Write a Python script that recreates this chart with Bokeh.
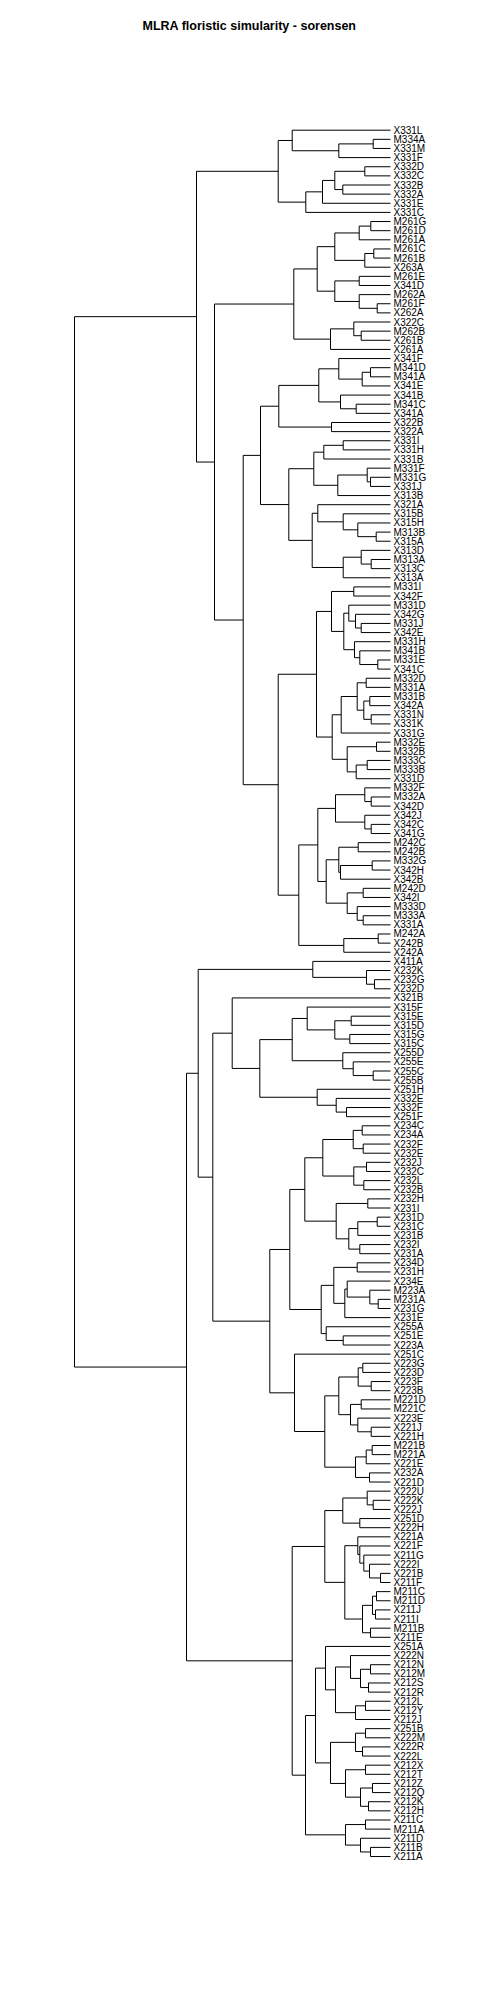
from bokeh.plotting import figure
from bokeh.models import Range1d, ColumnDataSource
from bokeh.core.properties import value
from bokeh.embed import file_html
from bokeh.resources import INLINE

TITLE = "MLRA floristic simularity - sorensen"

# ---- tree data: (merge height, left, right); leaves are labels ----
a1 = (98.3, "X331L", (51.7, (17.3, "M334A", "X331M"), "X331F"))
a2 = (84.7, (68, (55.7, (25.7, "X332D", "X332C"), (47.7, "X332B", "X332A")), "X331E"), "X331C")
clade_a = (112.3, a1, a2)

b1 = (55.7, (31.3, (19.7, "M261G", "M261D"), "M261A"), (25.7, (16.7, "M261C", "M261B"), "X263A"))
b2 = (55.7, (31.3, "M261E", "X341D"), (31.3, "M262A", (13.3, "M261F", "X262A")))
b3 = (60, (36.7, "X322C", (29.3, "M262B", "X261B")), "X261A")
clade_b = (96.7, (73.3, b1, b2), b3)

c1 = (71.7, (51.7, "X341F", (28.3, (20, "M341D", "M341A"), "X341E")),
      (50, "X341B", (34.3, "M341C", "X341A")))
c2 = (111.7, c1, (59, "X322B", "X322A"))
c3 = (76.7, (66.7, (47.3, "X331I", "X331H"), "X331B"),
      (52.7, (23.3, "M331F", (20, "M331G", "X331J")), "X313B"))
c4 = (78.3, (72.7, "X321A", (47.3, "X315B", (32.7, "X315H", (14.3, "M313B", "X315A")))),
      (47.3, (29.3, "X313D", (19.3, "M313A", "X313C")), "X313A"))
clade_c = (130, c2, (101.7, c3, c4))

d1 = (59, (36.7, "M331I", "X342F"),
      (46.7, (41.7, "M331D", (35, "X342G", (29.3, "M331J", "X342E"))),
       (36, "M331H", (30.7, "M341B", (12.7, "M331E", "X341C")))))
d2 = (58.3, (49.3, (33.3, (24.3, "M332D", "M331A"),
                    (26.7, (20.7, "M331B", "X342A"), (19.3, "X331N", "X331K"))), "X331G"),
      (43.3, (14, "M332E", "M332B"), (34.3, (23.3, "M333C", "M333B"), "X331D")))
d3 = (55, (25.7, "M332F", (19.3, "M332A", "X342D")), (25.7, "X342J", (19.3, "X342C", "X341G")))
d4 = (64.3, (51.7, (32.3, "M242C", "M242B"), (50, (18.3, "M332G", "X342H"), "X342B")),
      (43.3, (27.3, "M242D", "X342I"), (33.3, "M333D", (27.3, "M333A", "X331A"))))
d5 = (91.7, (72.7, d3, d4), (46.7, (12.3, "M242A", "X242B"), "X242A"))
clade_d = (112.3, (74, d1, d2), d5)

clade_e = (77.7, "X411A", (24, "X232K", (16, "X232G", "X232D")))

f1 = (98.3, (83.3, "X315F", (55.7, (39.3, "X315E", "X315D"), (40.7, "X315G", "X315C"))),
      (47.7, "X255D", (37.3, "X255E", (17.3, "X255C", "X255B"))))
f2 = (73.3, "X251H", (54.3, "X332E", (44, "X332F", "X251F")))
clade_f = (158.3, "X321B", (130.7, f1, f2))

g1 = (67.7, (37.3, (28.3, "X234C", "X234A"), (27.3, "X232F", "X232E")),
      (36.7, (24, "X232J", "X232C"), (26.7, "X232L", "X232B")))
g2 = (54.3, (22.7, "X232H", "X231I"),
      (41.7, (32.7, (13.3, "X231D", "X231C"), "X231B"), (30.7, "X232I", "X231A")))
g3 = (69.3, (56.7, (33.3, "X234D", "X231H"),
             (45.7, (43.3, "X234E", (20.7, "M223A", (12.3, "M231A", "X231G"))), "X231E")),
      (64.3, "X255A", (47.3, "X251E", "X223A")))
clade_g = (100.7, (85.7, g1, g2), g3)

h1 = (51.7, (32.3, (27.7, "X223G", "X223D"), (19.3, "X223F", "X223B")),
      (40, (29.3, "M221D", "M221C"), (32.7, "X223E", (19.3, "X221J", "X221H"))))
h2 = (35, (24.3, (18.3, "M221B", "M221A"), "X221E"), (21, "X232A", "X221D"))
clade_h = (96, "X251C", (65.7, h1, h2))

i1 = (47.7, (23.3, "X222U", (17.3, "X222K", "X222J")), (30.7, "X251D", "X222H"))
i2 = (32.7, "X221A", (30.7, "X221F", (26.7, "X211G", (21, "X222I", (10, "X221B", "X211F")))))
i3 = (28, (18, (14, "M211C", "M211D"), (15, "X211J", "X211I")), (20, "M211B", "X211E"))
clade_i = (65.7, i1, (45.7, i2, i3))

j1 = (65, "X251A", (55, (40, "X222N", (30, (20, "X212N", "X212M"), (22, "X212S", "X212R"))),
                     (35, (25, "X212L", "X212Y"), "X212J")))
j2 = (60, (35, (25, "X251B", "X222M"), (28, "X222R", "X222L")),
      (45, (25, "X212X", "X212T"), (30, (18, "X212Z", "X212Q"), (22, "X212K", "X212H"))))
j3 = (45, (25, "X211C", "M211A"), (30, "X211D", (20, "X211B", "X211A")))
clade_j = (85, (75, j1, j2), j3)

group_top = (194, clade_a, (176, clade_b, (147.3, clade_c, clade_d)))
group_mid = (192.3, clade_e, (177.7, clade_f, (120.7, clade_g, clade_h)))
group_low = (98.3, clade_i, clade_j)
tree = (316, group_top, (204, group_mid, group_low))

# ---- layout (page pixels; bokeh page has no body margin) ----
W, H = 484, 1984
OFF = 0
LEAF_PX = 390.0   # page x of height 0
PX_PER = 1.0      # page px per height unit
Y0, DY = 129.7, 9.134

leaves = []
x0s, y0s, x1s, y1s = [], [], [], []


def walk(node):
    if isinstance(node, str):
        leaves.append(node)
        return 0.0, float(len(leaves) - 1)
    h, l, r = node
    hl, yl = walk(l)
    hr, yr = walk(r)
    x0s.extend([hl, hr, h]); y0s.extend([yl, yr, yl])
    x1s.extend([h, h, h]); y1s.extend([yl, yr, yr])
    return h, (yl + yr) / 2.0


walk(tree)

x_start = (LEAF_PX - OFF) / PX_PER
x_end = (LEAF_PX - OFF - W) / PX_PER
y_bottom = (OFF + H - Y0) / DY
y_top = (OFF - Y0) / DY

p = figure(width=W, height=H, output_backend="svg", toolbar_location=None,
           x_range=Range1d(x_start, x_end), y_range=Range1d(y_bottom, y_top),
           x_axis_location=None, y_axis_location=None, min_border=0)
p.grid.visible = False
p.outline_line_color = None
p.background_fill_color = "white"

p.segment(x0=x0s, y0=y0s, x1=x1s, y1=y1s, line_color="black", line_width=1)

src = ColumnDataSource(dict(x=[0.0] * len(leaves), y=list(range(len(leaves))), t=leaves))
p.text(x="x", y="y", text="t", source=src, x_offset=3, text_baseline="middle",
       text_align="left", text_font=value("Liberation Sans"), text_font_size="10px",
       text_color="black")

# title
tx = (LEAF_PX - 249) / PX_PER
ty = (25.5 - Y0) / DY
p.text(x=[tx], y=[ty], text=[TITLE], text_align="center", text_baseline="middle",
       text_font=value("Liberation Sans"), text_font_size="12.5px", text_font_style="bold",
       text_color="black")

open("out.html", "w").write(file_html(p, INLINE))
